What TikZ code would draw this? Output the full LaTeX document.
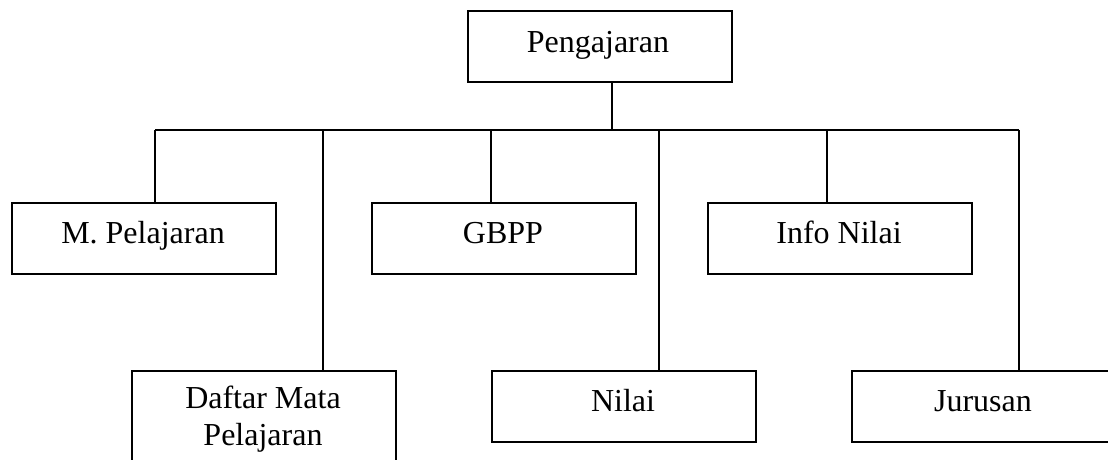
\documentclass[tikz,border=0pt]{standalone}
\usepackage{fontspec}
\setmainfont{Liberation Serif}
\begin{document}
\begin{tikzpicture}[x=1pt,y=-1pt,
  box/.style={draw,line width=2pt,rectangle,inner sep=0pt,minimum width=264pt,minimum height=71pt,anchor=north west},
  lbl/.style={anchor=base,inner sep=0pt,font=\fontsize{32}{37}\selectfont},
  link/.style={line width=2pt}]
\useasboundingbox (0,0) rectangle (1108,459);
\clip (0,0) rectangle (1108,459);
% boxes
\node[box] (peng) at (467,10) {};
\node[box] (mp)   at (11,202) {};
\node[box] (gbpp) at (371,202) {};
\node[box] (info) at (707,202) {};
\node[box,minimum height=110pt] (daftar) at (131,370) {};
\node[box] (nilai) at (491,370) {};
\node[box] (jur)  at (851,370) {};
% labels
\node[lbl] (tpeng) at (598,52) {Pengajaran};
\node[lbl] (tmp)   at (143,243) {M. Pelajaran};
\node[lbl] (tgbpp) at (503,243) {GBPP};
\node[lbl] (tinfo) at (839,243) {Info Nilai};
\node[lbl] (tdaf1) at (263,408) {Daftar Mata};
\node[lbl] (tdaf2) at (263,445) {Pelajaran};
\node[lbl] (tnil)  at (623,411) {Nilai};
\node[lbl] (tjur)  at (983,411) {Jurusan};
% tree connectors
\coordinate (hub) at (612,130);
\coordinate (barL) at (155,130);
\coordinate (barR) at (1019,130);
\draw[link] (peng.south -| hub) -- (hub);
\draw[link] (barL) -- (barR);
\draw[link] (barL) -- (barL |- mp.north);
\draw[link] (323,130) -- (323,370) coordinate (dtop);
\draw[link] (491,130) -- (491,202) coordinate (gtop);
\draw[link] (659,130) -- (659,370) coordinate (ntop);
\draw[link] (827,130) -- (827,202) coordinate (itop);
\draw[link] (barR) -- (barR |- jur.north);
\end{tikzpicture}
\end{document}
